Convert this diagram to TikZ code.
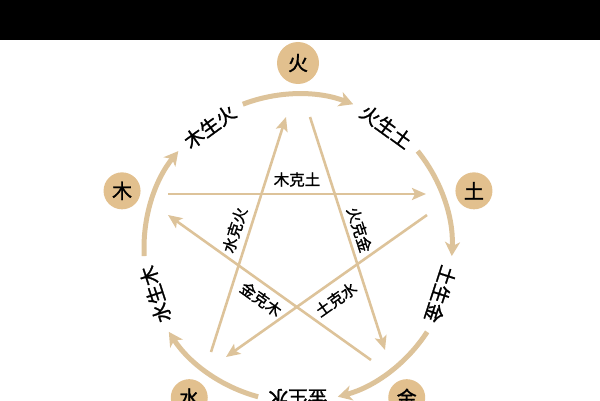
\documentclass[tikz,border=0pt]{standalone}
\usepackage{fontspec}
\newfontfamily\cjk[FakeBold=1.3]{Noto Sans CJK SC}
\usepackage{xcolor}
\usepackage{tikz}
\usetikzlibrary{positioning, arrows.meta}

\definecolor{wxfill}{RGB}{226,192,142}
\definecolor{wxline}{RGB}{221,195,154}

\tikzset{
    elem/.style={circle, fill=wxfill, minimum size=37pt, inner sep=0pt, font=\cjk\fontsize{20}{20}\selectfont},
    sheng/.style={draw=wxline, line width=5pt, -{Stealth[length=14pt, width=15pt, inset=4pt]}},
    ke/.style={draw=wxline, line width=2.6pt, -{Stealth[length=14pt, width=12pt, inset=3pt]}},
    shenglabel/.style={font=\cjk\fontsize{19.5}{19.5}\selectfont, inner sep=0pt},
    kelabel/.style={font=\cjk\fontsize{15.5}{15.5}\selectfont, inner sep=1pt, sloped}
}

\begin{document}
\begin{tikzpicture}[x=1pt, y=1pt]
    \useasboundingbox (0,0) rectangle (600,400);
    \fill[black] (0,360) rectangle (600,400);
    \coordinate (o) at (298,152);

    \node[elem, minimum size=42pt] (huo) at ([shift={(90:185)}]o) {火};
    \node[elem] (tu) at ([shift={(18:185)}]o) {土};
    \node[elem] (jin) at ([shift={(-54:185)}]o) {金};
    \node[elem] (shui) at ([shift={(234:185)}]o) {水};
    \node[elem] (mu) at ([shift={(162:185)}]o) {木};

    % sheng cycle (outer ring)
    \foreach \a/\t [count=\i] in {126/木生火, 54/火生土, -18/土生金, -90/金生水, 198/水生木} {
        \node[shenglabel, rotate=\a-90] (sheng\i) at ([shift={(\a:150)}]o) {\t};
        \draw[sheng] ([shift={(\a-15:154)}]o) arc[start angle=\a-15, end angle=\a-57, radius=154];
    }

    % ke cycle (star)
    \coordinate (mu-out) at (168,206);
    \coordinate (mu-in) at (168,185);
    \coordinate (tu-in) at (426,206);
    \coordinate (tu-out) at (427,185);
    \coordinate (shui-in) at (226,43);
    \coordinate (shui-out) at (211,48);
    \coordinate (huo-in) at (286,283);
    \coordinate (huo-out) at (310,283);
    \coordinate (jin-in) at (385,50);
    \coordinate (jin-out) at (371,40);

    \draw[ke] (mu-out) -- node[kelabel, above=5pt] (mu-ke) {木克土} (tu-in);
    \draw[ke] (tu-out) -- node[kelabel, below=7pt] (tu-ke) {土克水} (shui-in);
    \draw[ke] (shui-out) -- node[kelabel, above=5pt] (shui-ke) {水克火} (huo-in);
    \draw[ke] (huo-out) -- node[kelabel, above=3pt] (huo-ke) {火克金} (jin-in);
    \draw[ke] (jin-out) -- node[kelabel, below=5pt] (jin-ke) {金克木} (mu-in);
\end{tikzpicture}
\end{document}
